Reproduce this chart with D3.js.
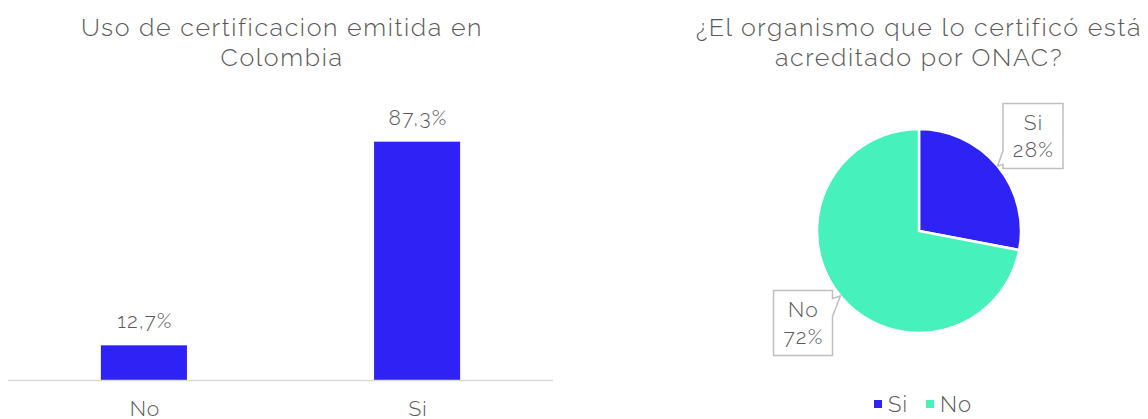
<!DOCTYPE html>
<html>
<head>
<meta charset="utf-8">
<script src="https://cdn.jsdelivr.net/npm/d3@7"></script>
<style>
  body { margin: 0; background: #fff; }
  svg text { font-family: Raleway, Lato, "Open Sans", sans-serif; font-weight: 300; fill: #595959; }
</style>
</head>
<body>
<div id="chart"></div>
<script>
// bar chart data
var barCats = ["No", "Si"];
var barVals = [12.7, 87.3];
var barTitle = ["Uso de certificacion emitida en", "Colombia"];

// pie chart data
var pieCats = ["Si", "No"];
var pieVals = [28, 72];
var pieTitle = ["¿El organismo que lo certificó está", "acreditado por ONAC?"];

var width = 1148, height = 419;
var blue = "#2e22f5", teal = "#46f1bb";
var fmt = function (v) { return v.toFixed(1).replace(".", ",") + "%"; };

var svg = d3.select("#chart").append("svg")
    .attr("width", width)
    .attr("height", height);

// ---- bar chart ----
var baseY = 380;
var x = d3.scaleBand()
    .domain(barCats)
    .range([8, 553])
    .paddingInner(0.685)
    .paddingOuter(0.34);

var y = d3.scaleLinear()
    .domain([0, 100])
    .range([baseY, baseY - 273]);

var bars = svg.append("g");

bars.selectAll("text.title")
    .data(barTitle)
    .enter().append("text")
    .attr("class", "title")
    .attr("x", 282)
    .attr("y", function (d, i) { return 36 + i * 30; })
    .attr("text-anchor", "middle")
    .style("font-size", "25px")
    .style("letter-spacing", "1.6px")
    .text(function (d) { return d; });

bars.selectAll("rect")
    .data(barVals)
    .enter().append("rect")
    .attr("x", function (d, i) { return x(barCats[i]); })
    .attr("y", function (d) { return y(d); })
    .attr("width", x.bandwidth())
    .attr("height", function (d) { return baseY - y(d); })
    .attr("fill", blue);

bars.append("line")
    .attr("x1", 8).attr("x2", 553)
    .attr("y1", baseY + 0.5).attr("y2", baseY + 0.5)
    .attr("stroke", "#d9d9d9")
    .attr("stroke-width", 1.5);

bars.selectAll("text.val")
    .data(barVals)
    .enter().append("text")
    .attr("class", "val")
    .attr("x", function (d, i) { return x(barCats[i]) + x.bandwidth() / 2 + 1; })
    .attr("y", function (d) { return y(d) - 17; })
    .attr("text-anchor", "middle")
    .style("font-size", "21px")
    .style("letter-spacing", "1.2px")
    .text(function (d) { return fmt(d); });

bars.selectAll("text.cat")
    .data(barCats)
    .enter().append("text")
    .attr("class", "cat")
    .attr("x", function (d) { return x(d) + x.bandwidth() / 2 + 1; })
    .attr("y", 416)
    .attr("text-anchor", "middle")
    .style("font-size", "21px")
    .style("letter-spacing", "1px")
    .text(function (d) { return d; });

// ---- pie chart ----
var cx = 919, cy = 231, r = 102;
var colors = d3.scaleOrdinal().domain(pieCats).range([blue, teal]);

var pieG = svg.append("g");

pieG.selectAll("text.title")
    .data(pieTitle)
    .enter().append("text")
    .attr("class", "title")
    .attr("x", 919)
    .attr("y", function (d, i) { return 36 + i * 30; })
    .attr("text-anchor", "middle")
    .style("font-size", "25px")
    .style("letter-spacing", "1.6px")
    .text(function (d) { return d; });

var pie = d3.pie().sort(null);
var arc = d3.arc().innerRadius(0).outerRadius(r);
var arcs = pie(pieVals);

var slices = pieG.append("g").attr("transform", "translate(" + cx + "," + cy + ")");
slices.selectAll("path")
    .data(arcs)
    .enter().append("path")
    .attr("d", arc)
    .attr("fill", function (d, i) { return colors(pieCats[i]); })
    .attr("stroke", "#fff")
    .attr("stroke-width", 2.5);

// callout labels
var boxes = [
    { w: 60, h: 65, dx: 114, dy: -95 },
    { w: 59, h: 65, dx: -116, dy: 92 }
];
arcs.forEach(function (a, i) {
    var mid = (a.startAngle + a.endAngle) / 2;
    var tx = cx + r * Math.sin(mid), ty = cy - r * Math.cos(mid);
    var b = boxes[i];
    var bx = cx + b.dx - b.w / 2, by = cy + b.dy - b.h / 2;
    var p;
    if (i === 0) {
        // tail on left edge near bottom
        p = "M" + bx + "," + by + "H" + (bx + b.w) + "V" + (by + b.h) + "H" + bx +
            "V" + (by + b.h - 4) + "L" + tx + "," + ty + "L" + bx + "," + (by + b.h - 18) + "Z";
    } else {
        // tail on right edge near top
        p = "M" + bx + "," + by + "H" + (bx + b.w) + "V" + (by + 8) + "L" + tx + "," + ty +
            "L" + (bx + b.w) + "," + (by + 26) + "V" + (by + b.h) + "H" + bx + "Z";
    }
    pieG.append("path")
        .attr("d", p)
        .attr("fill", "#fff")
        .attr("stroke", "#bfbfbf")
        .attr("stroke-width", 1.5);
    pieG.append("text")
        .attr("x", bx + b.w / 2 + 0.5)
        .attr("y", by + 26)
        .attr("text-anchor", "middle")
        .style("font-size", "21px")
        .style("letter-spacing", "1.2px")
        .text(pieCats[i]);
    pieG.append("text")
        .attr("x", bx + b.w / 2 + 0.5)
        .attr("y", by + 53)
        .attr("text-anchor", "middle")
        .style("font-size", "21px")
        .style("letter-spacing", "1.2px")
        .text(pieVals[i] + "%");
});

// legend
var legend = pieG.selectAll("g.leg")
    .data(pieCats)
    .enter().append("g")
    .attr("class", "leg")
    .attr("transform", function (d, i) { return "translate(" + (874 + i * 52) + ",404)"; });
legend.append("rect")
    .attr("x", 0).attr("y", -4)
    .attr("width", 8).attr("height", 8)
    .attr("fill", function (d) { return colors(d); });
legend.append("text")
    .attr("x", 14)
    .attr("y", 8)
    .style("font-size", "22px")
    .style("letter-spacing", "1.2px")
    .text(function (d) { return d; });
</script>
</body>
</html>
